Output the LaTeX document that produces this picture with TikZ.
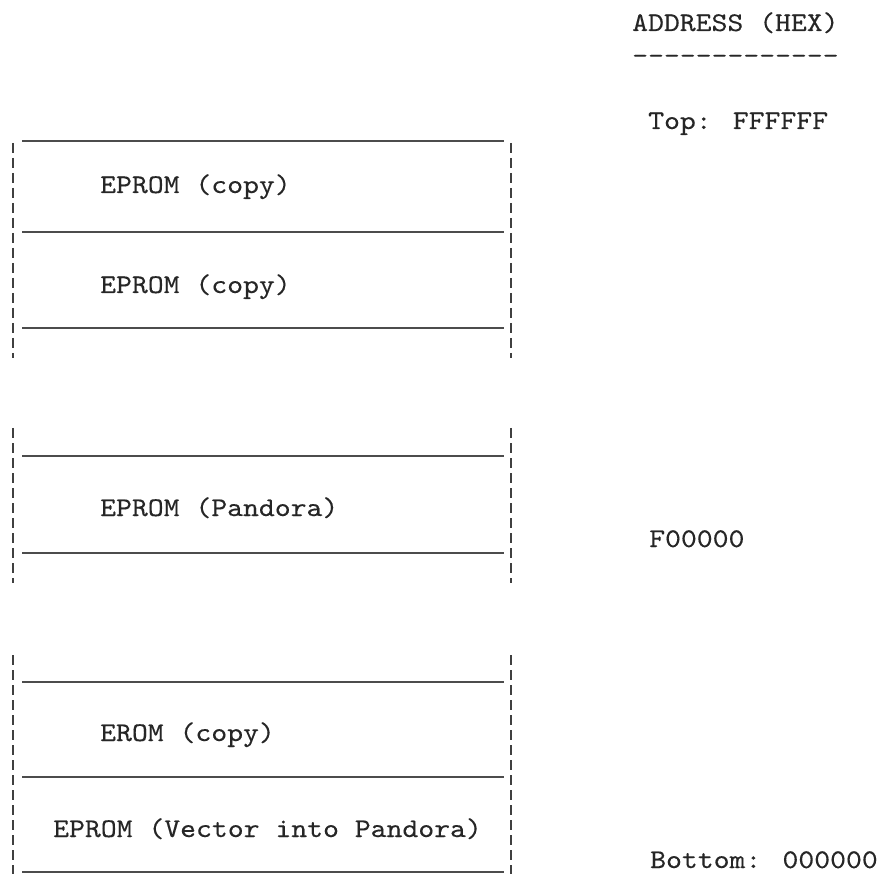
\documentclass[tikz,border=0pt]{standalone}
\usepackage{fontspec}
\newfontfamily\tyfont[FakeStretch=1.12,FakeBold=0.25]{lmmono10-regular.otf}
\begin{document}
\begin{tikzpicture}[x=1pt,y=-1pt,
  lbl/.style={font=\tyfont\fontsize{27}{30}\selectfont, inner sep=0pt, anchor=base west, text=black!85},
  sep/.style={line width=1.2pt, draw=black!70},
  side/.style={line width=1.6pt, draw=black!75, dash pattern=on 10pt off 5pt}]
\useasboundingbox (0,0) rectangle (889,874);

% group 1
\draw[side] (13,143) coordinate (g1lt) -- (13,358) coordinate (g1lb);
\draw[side] (511,143) coordinate (g1rt) -- (511,358) coordinate (g1rb);
\draw[sep] (22,141) coordinate (h1a) -- (504,141) coordinate (h1b);
\draw[sep] (22,232) coordinate (h2a) -- (504,232) coordinate (h2b);
\draw[sep] (22,328) coordinate (h3a) -- (504,328) coordinate (h3b);
\node[lbl] (c1) at (100,193) {EPROM (copy)};
\node[lbl] (c2) at (100,293) {EPROM (copy)};

% group 2
\draw[side] (13,428) coordinate (g2lt) -- (13,583) coordinate (g2lb);
\draw[side] (511,428) coordinate (g2rt) -- (511,583) coordinate (g2rb);
\draw[sep] (22,456) coordinate (h4a) -- (504,456) coordinate (h4b);
\draw[sep] (22,553) coordinate (h5a) -- (504,553) coordinate (h5b);
\node[lbl] (pan) at (100,516) {EPROM (Pandora)};

% group 3
\draw[side] (13,655) coordinate (g3lt) -- (13,874) coordinate (g3lb);
\draw[side] (511,655) coordinate (g3rt) -- (511,874) coordinate (g3rb);
\draw[sep] (22,682) coordinate (h6a) -- (504,682) coordinate (h6b);
\draw[sep] (22,777) coordinate (h7a) -- (504,777) coordinate (h7b);
\draw[sep] (22,872) coordinate (h8a) -- (504,872) coordinate (h8b);
\node[lbl] (erom) at (100,741) {EROM (copy)};
\node[lbl] (vec) at (53,837) {EPROM (Vector into Pandora)};

% address column
\node[lbl] (addr) at (632,31) {ADDRESS (HEX)};
\node[lbl] (rule) at (632,64) {-{}-{}-{}-{}-{}-{}-{}-{}-{}-{}-{}-{}-};
\node[lbl] (top) at (648,129) {Top: FFFFFF};
\node[lbl] (mid) at (649,547) {F00000};
\node[lbl] (bot) at (650,868) {Bottom: 000000};
\end{tikzpicture}
\end{document}
